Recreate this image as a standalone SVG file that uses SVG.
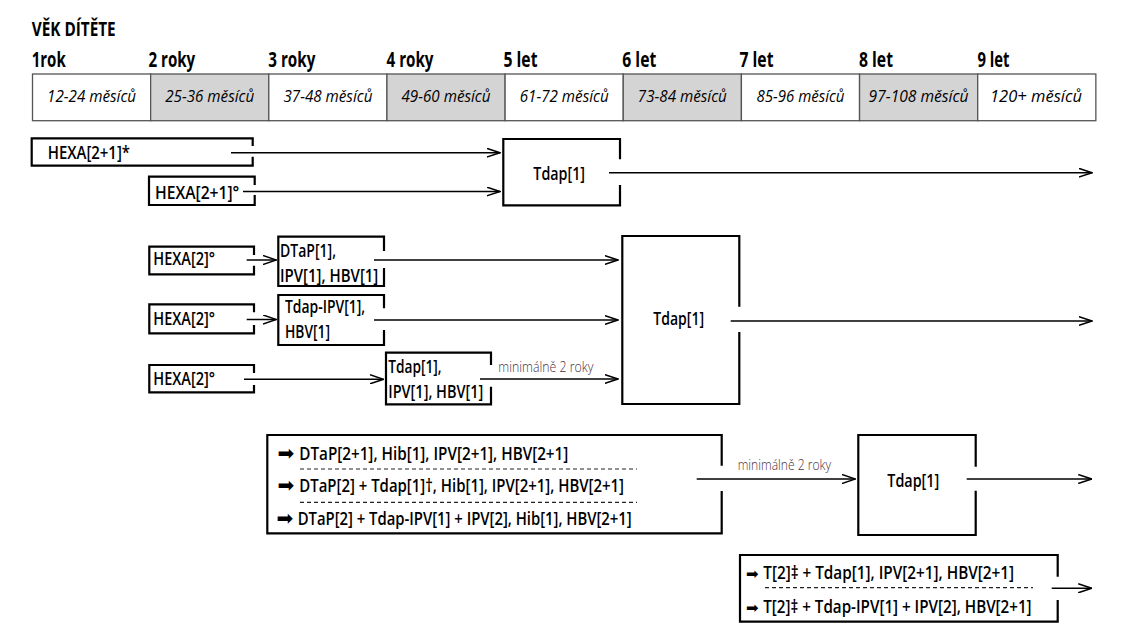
<svg xmlns="http://www.w3.org/2000/svg" width="1131" height="640" viewBox="0 0 1131 640">
<style>
.bg{fill:#fff}
.hdr{font-family:"Open Sans","Liberation Sans",sans-serif;font-weight:700;font-size:21px;fill:#000}
.cell{fill:#fff;stroke:#555;stroke-width:1.3}
.cell.g{fill:#d4d4d4}
.ct{font-family:"Open Sans","Liberation Sans",sans-serif;font-style:italic;font-size:17px;fill:#000;text-anchor:middle}
.box{fill:none;stroke:#000;stroke-width:2.2}
.bt{font-family:"Open Sans","Liberation Sans",sans-serif;font-weight:600;font-size:18px;fill:#000}
.mid{text-anchor:middle}
.arr{font-family:"DejaVu Sans",sans-serif;font-size:20px;fill:#000}
.arr.s{font-size:15px}
.note{font-family:"Open Sans","Liberation Sans",sans-serif;font-weight:300;font-size:15px;fill:#4a2f40}
.con{fill:none;stroke:#000;stroke-width:1.5;marker-end:url(#ah)}
.dash{fill:none;stroke:#222;stroke-width:1.2;stroke-dasharray:4 3}
</style>
<defs>
<marker id="ah" markerUnits="userSpaceOnUse" viewBox="0 0 14 10" markerWidth="14" markerHeight="10" refX="13.5" refY="5" orient="auto">
<path d="M0,0.5 L13.5,5 L0,9.5" fill="none" stroke="#000" stroke-width="1.5"/>
</marker>
</defs>
<rect class="bg" x="0" y="0" width="1131" height="640"/>

<g id="header">
<text class="hdr" x="31.7" y="36" style="font-size:20px" textLength="84" lengthAdjust="spacingAndGlyphs">VĚK DÍTĚTE</text>
<text class="hdr" x="31.7" y="66.7" textLength="34" lengthAdjust="spacingAndGlyphs">1rok</text>
<text class="hdr" x="148.5" y="66.7" textLength="46.7" lengthAdjust="spacingAndGlyphs">2 roky</text>
<text class="hdr" x="268.3" y="66.7" textLength="47" lengthAdjust="spacingAndGlyphs">3 roky</text>
<text class="hdr" x="386.5" y="66.7" textLength="47" lengthAdjust="spacingAndGlyphs">4 roky</text>
<text class="hdr" x="503.5" y="66.7" textLength="34" lengthAdjust="spacingAndGlyphs">5 let</text>
<text class="hdr" x="622.3" y="66.7" textLength="34" lengthAdjust="spacingAndGlyphs">6 let</text>
<text class="hdr" x="739.5" y="66.7" textLength="34" lengthAdjust="spacingAndGlyphs">7 let</text>
<text class="hdr" x="859" y="66.7" textLength="34" lengthAdjust="spacingAndGlyphs">8 let</text>
<text class="hdr" x="977.5" y="66.7" textLength="32" lengthAdjust="spacingAndGlyphs">9 let</text>
</g>

<g id="timeline">
<rect class="cell" x="32.5" y="74" width="118.15" height="46.7"/>
<rect class="cell g" x="150.65" y="74" width="118.15" height="46.7"/>
<rect class="cell" x="268.8" y="74" width="118.15" height="46.7"/>
<rect class="cell g" x="386.95" y="74" width="118.15" height="46.7"/>
<rect class="cell" x="505.1" y="74" width="118.15" height="46.7"/>
<rect class="cell g" x="623.25" y="74" width="118.15" height="46.7"/>
<rect class="cell" x="741.4" y="74" width="118.15" height="46.7"/>
<rect class="cell g" x="859.55" y="74" width="118.15" height="46.7"/>
<rect class="cell" x="977.7" y="74" width="118.15" height="46.7"/>
<text class="ct" x="91.6" y="101.7" textLength="89" lengthAdjust="spacingAndGlyphs">12-24 měsíců</text>
<text class="ct" x="209.7" y="101.7" textLength="89" lengthAdjust="spacingAndGlyphs">25-36 měsíců</text>
<text class="ct" x="327.9" y="101.7" textLength="89" lengthAdjust="spacingAndGlyphs">37-48 měsíců</text>
<text class="ct" x="446" y="101.7" textLength="89" lengthAdjust="spacingAndGlyphs">49-60 měsíců</text>
<text class="ct" x="564.2" y="101.7" textLength="89" lengthAdjust="spacingAndGlyphs">61-72 měsíců</text>
<text class="ct" x="682.3" y="101.7" textLength="89" lengthAdjust="spacingAndGlyphs">73-84 měsíců</text>
<text class="ct" x="800.5" y="101.7" textLength="88" lengthAdjust="spacingAndGlyphs">85-96 měsíců</text>
<text class="ct" x="918.6" y="101.7" textLength="100" lengthAdjust="spacingAndGlyphs">97-108 měsíců</text>
<text class="ct" x="1036" y="101.7" textLength="92" lengthAdjust="spacingAndGlyphs">120+ měsíců</text>
</g>

<g id="hexa21star">
<path class="box" d="M252.7,146 V138.3 H31.7 V165.7 H252.7 V156.7"/>
<text class="bt" x="47.7" y="159.3" textLength="82.3" lengthAdjust="spacingAndGlyphs">HEXA[2+1]*</text>
</g>
<g id="hexa21deg">
<path class="box" d="M254.7,185 V176.7 H149 V205 H254.7 V195"/>
<text class="bt" x="155" y="199" textLength="84.3" lengthAdjust="spacingAndGlyphs">HEXA[2+1]°</text>
</g>
<g id="tdap1">
<path class="box" d="M620,159.3 V139 H503.3 V205.3 H620 V185"/>
<text class="bt mid" x="559.2" y="180" textLength="51.7" lengthAdjust="spacingAndGlyphs">Tdap[1]</text>
</g>

<g id="hexa2a">
<path class="box" d="M254,255 V246.7 H149.3 V274.3 H254 V265.7"/>
<text class="bt" x="153.3" y="265" textLength="61.7" lengthAdjust="spacingAndGlyphs">HEXA[2]°</text>
</g>
<g id="dtap1">
<path class="box" d="M384,251 V236.7 H278.3 V286 H384 V268"/>
<text class="bt" x="280" y="256.7" textLength="56" lengthAdjust="spacingAndGlyphs">DTaP[1],</text>
<text class="bt" x="280" y="281.7" textLength="98.3" lengthAdjust="spacingAndGlyphs">IPV[1], HBV[1]</text>
</g>
<g id="hexa2b">
<path class="box" d="M254,312.3 V304.3 H149.3 V333.3 H254 V325"/>
<text class="bt" x="153.3" y="325" textLength="61.7" lengthAdjust="spacingAndGlyphs">HEXA[2]°</text>
</g>
<g id="tdapipv1">
<path class="box" d="M384,308.3 V295 H278.3 V345 H384 V330"/>
<text class="bt" x="285" y="313.3" textLength="80" lengthAdjust="spacingAndGlyphs">Tdap-IPV[1],</text>
<text class="bt" x="285" y="338.3" textLength="45" lengthAdjust="spacingAndGlyphs">HBV[1]</text>
</g>
<g id="hexa2c">
<path class="box" d="M254,373 V365 H149.3 V392.3 H254 V385"/>
<text class="bt" x="153.3" y="385" textLength="61.7" lengthAdjust="spacingAndGlyphs">HEXA[2]°</text>
</g>
<g id="tdapipvhbv">
<path class="box" d="M491,365 V352.7 H386 V404.3 H491 V386.7"/>
<text class="bt" x="388.3" y="373.3" textLength="53.3" lengthAdjust="spacingAndGlyphs">Tdap[1],</text>
<text class="bt" x="388.3" y="398.3" textLength="95" lengthAdjust="spacingAndGlyphs">IPV[1], HBV[1]</text>
</g>
<g id="tdap2">
<path class="box" d="M739.3,306.7 V236 H622.3 V404 H739.3 V332"/>
<text class="bt mid" x="678.7" y="325" textLength="50.7" lengthAdjust="spacingAndGlyphs">Tdap[1]</text>
</g>

<g id="schemes1">
<path class="box" d="M721.7,465.7 V435 H267.3 V533.3 H721.7 V491"/>
<text class="arr" x="277.5" y="460">➡</text>
<text class="bt" x="299.3" y="460" textLength="269" lengthAdjust="spacingAndGlyphs">DTaP[2+1], Hib[1], IPV[2+1], HBV[2+1]</text>
<line class="dash" x1="300" y1="469" x2="637" y2="469"/>
<text class="arr" x="277.5" y="491.7">➡</text>
<text class="bt" x="299.3" y="491.7" textLength="324.7" lengthAdjust="spacingAndGlyphs">DTaP[2] + Tdap[1]†, Hib[1], IPV[2+1], HBV[2+1]</text>
<line class="dash" x1="300" y1="502.3" x2="637" y2="502.3"/>
<text class="arr" x="276.5" y="525">➡</text>
<text class="bt" x="297.7" y="525" textLength="334" lengthAdjust="spacingAndGlyphs">DTaP[2] + Tdap-IPV[1] + IPV[2], Hib[1], HBV[2+1]</text>
</g>
<g id="tdap3">
<path class="box" d="M975.7,466.7 V435 H858.3 V535 H975.7 V490.7"/>
<text class="bt mid" x="913.3" y="486.7" textLength="52" lengthAdjust="spacingAndGlyphs">Tdap[1]</text>
</g>
<g id="schemes2">
<path class="box" d="M1057.7,576.7 V555 H740 V621.7 H1057.7 V600"/>
<text class="arr s" x="746" y="579.3">➡</text>
<text class="bt" x="763.3" y="579.3" textLength="250.7" lengthAdjust="spacingAndGlyphs">T[2]‡ + Tdap[1], IPV[2+1], HBV[2+1]</text>
<line class="dash" x1="765" y1="587.7" x2="1033" y2="587.7"/>
<text class="arr s" x="746" y="612.7">➡</text>
<text class="bt" x="763.3" y="612.7" textLength="268.3" lengthAdjust="spacingAndGlyphs">T[2]‡ + Tdap-IPV[1] + IPV[2], HBV[2+1]</text>
</g>

<g id="connectors">
<line class="con" x1="231" y1="152.7" x2="500" y2="152.7"/>
<line class="con" x1="243" y1="191.5" x2="500" y2="191.5"/>
<line class="con" x1="609" y1="172.7" x2="1092" y2="172.7"/>
<line class="con" x1="246.7" y1="260" x2="276.5" y2="260"/>
<line class="con" x1="374" y1="260" x2="618" y2="260"/>
<line class="con" x1="246.7" y1="319.5" x2="276.5" y2="319.5"/>
<line class="con" x1="374" y1="320" x2="618" y2="320"/>
<line class="con" x1="244" y1="379.3" x2="383.5" y2="379.3"/>
<line class="con" x1="480" y1="379" x2="618" y2="379"/>
<text class="note" x="498.3" y="371.7" textLength="95" lengthAdjust="spacingAndGlyphs">minimálně 2 roky</text>
<line class="con" x1="730.7" y1="321" x2="1092" y2="321"/>
<line class="con" x1="696.7" y1="479" x2="855.5" y2="479"/>
<text class="note" x="737.7" y="470" textLength="93.3" lengthAdjust="spacingAndGlyphs">minimálně 2 roky</text>
<line class="con" x1="966.7" y1="479" x2="1091.7" y2="479"/>
<line class="con" x1="1051.7" y1="588.3" x2="1091.7" y2="588.3"/>
</g>
</svg>
